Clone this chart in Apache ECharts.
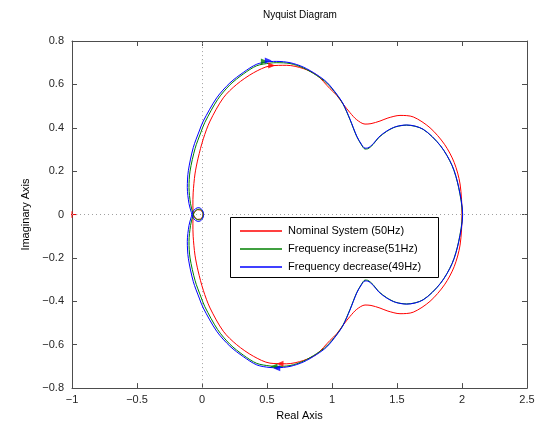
<!DOCTYPE html>
<html>
<head>
<meta charset="utf-8">
<script src="https://cdn.jsdelivr.net/npm/echarts@6/dist/echarts.min.js"></script>
<style>
html,body{margin:0;padding:0;background:#fff;}
#chart{width:543px;height:426px;}
</style>
</head>
<body>
<div id="chart"></div>
<script>
// Positive-frequency branches (omega from 0 to +inf).
// The negative-frequency branch is the complex conjugate (mirror about the real axis).
const seriesNames = ['Nominal System (50Hz)', 'Frequency increase(51Hz)', 'Frequency decrease(49Hz)'];
const seriesColors = ['#ff0000', '#008000', '#0000ff'];

const nominalLower = [
  [2.0, 0], [1.985, -0.141], [1.94, -0.240], [1.865, -0.324], [1.754, -0.400],
  [1.625, -0.450], [1.523, -0.457], [1.43, -0.445], [1.369, -0.431], [1.30, -0.419],
  [1.254, -0.417], [1.19, -0.437], [1.138, -0.47], [1.085, -0.51], [1.036, -0.55],
  [0.985, -0.58], [0.882, -0.643], [0.779, -0.673], [0.652, -0.688], [0.523, -0.685],
  [0.395, -0.653], [0.267, -0.600], [0.164, -0.538], [0.062, -0.431], [0.010, -0.349],
  [-0.030, -0.26], [-0.054, -0.187], [-0.068, -0.10], [-0.070, -0.04], [-0.066, 0],
  [-0.056, 0.013], [-0.035, 0.022], [-0.010, 0.020], [0.005, 0.010], [0.007, 0]
];

const increaseLower = [
  [2.003, 0], [1.974, -0.125], [1.924, -0.225], [1.834, -0.317], [1.700, -0.393],
  [1.574, -0.412], [1.489, -0.404], [1.42, -0.383], [1.358, -0.354], [1.316, -0.323],
  [1.274, -0.303], [1.254, -0.302], [1.226, -0.322], [1.19, -0.36], [1.138, -0.438],
  [1.086, -0.508], [1.036, -0.553], [0.96, -0.606], [0.882, -0.641], [0.779, -0.676],
  [0.677, -0.696], [0.575, -0.700], [0.523, -0.698], [0.421, -0.686], [0.318, -0.648],
  [0.215, -0.598], [0.120, -0.530], [0.022, -0.425], [-0.008, -0.38], [-0.053, -0.305],
  [-0.092, -0.200], [-0.100, -0.125], [-0.088, -0.05], [-0.072, -0.01], [-0.062, 0.008],
  [-0.045, 0.02], [-0.022, 0.025], [-0.002, 0.018], [0.008, 0.006], [0.008, 0]
];

const decreaseLower = [
  [2.005, 0], [1.975, -0.125], [1.925, -0.225], [1.835, -0.317], [1.702, -0.393],
  [1.575, -0.413], [1.49, -0.405], [1.421, -0.385], [1.36, -0.357], [1.318, -0.327],
  [1.275, -0.307], [1.254, -0.306], [1.225, -0.325], [1.19, -0.362], [1.138, -0.44],
  [1.086, -0.51], [1.036, -0.555], [0.96, -0.61], [0.882, -0.645], [0.779, -0.68],
  [0.677, -0.70], [0.575, -0.706], [0.523, -0.705], [0.421, -0.693], [0.318, -0.655],
  [0.215, -0.607], [0.113, -0.538], [0.010, -0.431], [-0.021, -0.385], [-0.067, -0.309],
  [-0.105, -0.202], [-0.113, -0.125], [-0.100, -0.05], [-0.082, -0.01], [-0.070, 0.012],
  [-0.050, 0.027], [-0.025, 0.032], [-0.002, 0.024], [0.011, 0.009], [0.012, 0]
];

// Direction arrows: [re, im, pointsRight]
const nominalArrows = [[0.536, 0.687, 1], [0.60, -0.688, 0]];
const increaseArrows = [[0.48, 0.706, 1], [0.554, -0.700, 0]];
const decreaseArrows = [[0.51, 0.71, 1], [0.575, -0.708, 0]];

const criticalPoint = [-1, 0];

const xTicks = [-1, -0.5, 0, 0.5, 1, 1.5, 2, 2.5];
const yTicks = [-0.8, -0.6, -0.4, -0.2, 0, 0.2, 0.4, 0.6, 0.8];

function fullCurve(lower) {
  const upper = lower.map(p => [p[0], -p[1]]).reverse();
  return upper.concat(lower.slice(1));
}
function fmt(v) {
  const s = String(Number(v.toFixed(2)));
  return s.replace('-', '\u2212');
}

const chart = echarts.init(document.getElementById('chart'), null, {renderer: 'canvas'});
const FONT = '"Liberation Sans", Arial, Helvetica, sans-serif';
const AXC = '#4d4d4d';

const lowers = [nominalLower, increaseLower, decreaseLower];
const arrows = [nominalArrows, increaseArrows, decreaseArrows];

const series = [];
series.push({
  type: 'line', name: 'guides', data: [], z: 1, silent: true,
  markLine: {
    silent: true, symbol: 'none', animation: false,
    label: {show: false},
    lineStyle: {color: '#a0a0a0', type: [1, 3], width: 1},
    data: [{xAxis: 0}, {yAxis: 0}]
  }
});
series.push({
  type: 'line', name: 'critical', z: 3, symbol: 'none', silent: true,
  lineStyle: {color: '#ff0000', width: 1},
  data: [[criticalPoint[0] - 0.04, criticalPoint[1]], [criticalPoint[0] + 0.04, criticalPoint[1]], null,
         [criticalPoint[0], criticalPoint[1] - 0.015], [criticalPoint[0], criticalPoint[1] + 0.015]],
  connectNulls: false
});
for (let i = 0; i < 3; i++) {
  series.push({
    type: 'line', name: seriesNames[i], data: fullCurve(lowers[i]),
    symbol: 'none', smooth: 0.3, z: 5 + i,
    lineStyle: {color: seriesColors[i], width: 1},
    itemStyle: {color: seriesColors[i]},
    animation: false
  });
}
for (let i = 0; i < 3; i++) {
  series.push({
    type: 'scatter', name: 'arrow' + i, z: 8 + i, silent: true,
    data: arrows[i].map(a => ({value: [a[0], a[1]], symbolRotate: a[2] ? -90 : 90})),
    symbol: 'triangle', symbolSize: [6, 7],
    itemStyle: {color: seriesColors[i]},
    animation: false
  });
}

const baseX = {
  type: 'value', min: -1, max: 2.5, interval: 0.5,
  axisLine: {show: true, onZero: false, lineStyle: {color: AXC, width: 1}},
  axisTick: {show: true, inside: true, length: 5, lineStyle: {color: AXC}},
  splitLine: {show: false}
};
const baseY = {
  type: 'value', min: -0.8, max: 0.8, interval: 0.2,
  axisLine: {show: true, onZero: false, lineStyle: {color: AXC, width: 1}},
  axisTick: {show: true, inside: true, length: 5, lineStyle: {color: AXC}},
  splitLine: {show: false}
};

// Legend box (MATLAB style), drawn as graphic elements
const LX = 230, LY = 217, LW = 208, LH = 60, ROW0 = 13.5, ROWSTEP = 18;
const legendGraphic = [{
  type: 'rect', z: 100, silent: true,
  shape: {x: LX + 0.5, y: LY + 0.5, width: LW, height: LH},
  style: {fill: '#ffffff', stroke: '#000000', lineWidth: 1}
}];
seriesNames.forEach((n, i) => {
  const yy = Math.round(LY + ROW0 + i * ROWSTEP);
  legendGraphic.push({
    type: 'line', z: 101, silent: true,
    shape: {x1: LX + 10, y1: yy, x2: LX + 52, y2: yy},
    style: {stroke: seriesColors[i], lineWidth: 1.6}
  });
  legendGraphic.push({
    type: 'text', z: 101, silent: true, x: LX + 58, y: yy,
    style: {text: n, fill: '#000', font: '11px ' + FONT, verticalAlign: 'middle'}
  });
});

chart.setOption({
  animation: false,
  backgroundColor: '#ffffff',
  textStyle: {fontFamily: FONT},
  graphic: [{
    type: 'text', left: 263, top: 10, z: 50,
    style: {text: 'Nyquist Diagram', fontSize: 10, fill: '#000', font: '10px ' + FONT}
  }].concat(legendGraphic),
  grid: {left: 72, right: 16, top: 41, bottom: 36},
  xAxis: [
    Object.assign({}, baseX, {
      position: 'bottom',
      axisLabel: {fontSize: 11, color: '#262626', margin: 6, fontFamily: FONT,
        formatter: v => fmt(v), customValues: xTicks},
      name: 'Real Axis', nameLocation: 'middle', nameGap: 20,
      nameTextStyle: {fontSize: 11, color: '#000', fontFamily: FONT}
    }),
    Object.assign({}, baseX, {position: 'top', axisLabel: {show: false}})
  ],
  yAxis: [
    Object.assign({}, baseY, {
      position: 'left',
      axisLabel: {fontSize: 11, color: '#262626', margin: 8, fontFamily: FONT,
        formatter: v => fmt(v)},
      name: 'Imaginary Axis', nameLocation: 'middle', nameGap: 33,
      nameTextStyle: {fontSize: 11, color: '#000', fontFamily: FONT}
    }),
    Object.assign({}, baseY, {position: 'right', axisLabel: {show: false}})
  ],
  series: series
});
</script>
</body>
</html>
